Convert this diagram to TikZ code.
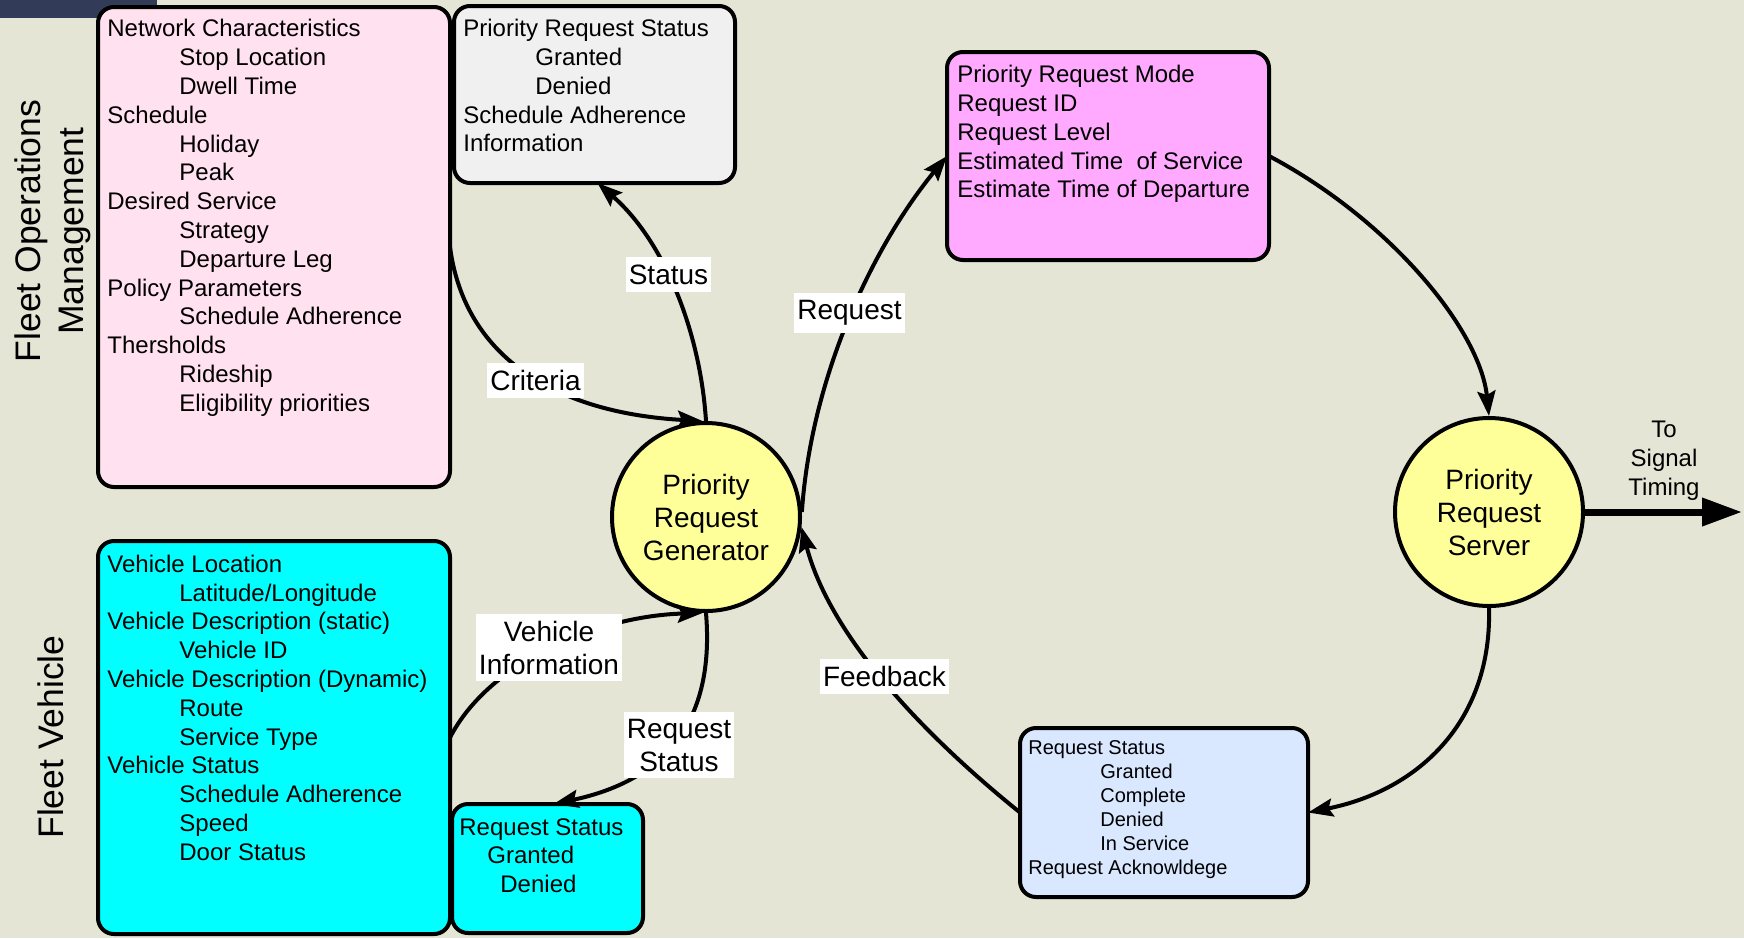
\documentclass[tikz,border=0pt]{standalone}
\usepackage{fontspec}
\setmainfont{Liberation Sans}
\usetikzlibrary{arrows.meta}
\definecolor{bgc}{RGB}{229,229,214}
\definecolor{stripc}{RGB}{50,60,88}
\definecolor{pinkc}{RGB}{255,225,240}
\definecolor{greyc}{RGB}{240,240,240}
\definecolor{magc}{RGB}{255,170,255}
\definecolor{cyanc}{RGB}{0,255,255}
\definecolor{lbluec}{RGB}{217,232,255}
\definecolor{yelc}{RGB}{255,255,153}
\begin{document}
\begin{tikzpicture}[x=0.5pt,y=-0.5pt,
  box/.style={draw=black, line width=2pt, rounded corners=8pt, anchor=north west, inner sep=0pt, outer sep=0pt},
  txtb/.style={anchor=north west, align=left, inner sep=0pt, font=\fontsize{12}{14.4}\selectfont},
  txts/.style={anchor=north west, align=left, inner sep=0pt, font=\fontsize{10}{12}\selectfont},
  proc/.style={circle, draw=black, line width=2pt, fill=yelc, minimum size=94pt, inner sep=0pt, align=center, font=\fontsize{14}{16.5}\selectfont},
  conn/.style={line width=2pt, -{Stealth[length=12.5pt,width=9pt,inset=2pt]}},
  bigarrow/.style={line width=3.5pt, -{Triangle[length=20pt,width=13.5pt]}},
  lbl/.style={fill=white, inner xsep=1.5pt, inner ysep=3.6pt, align=center, font=\fontsize{14}{16.5}\selectfont},
  side/.style={rotate=90, align=center, font=\fontsize{17.75}{21.5}\selectfont, inner sep=0pt}
]
\fill[bgc] (0,0) rectangle (1744,938);
\useasboundingbox (0,0) rectangle (1744,938);
\fill[stripc] (0,0) rectangle (157,18);

% side labels
\node[side] (fomlbl) at (53,231) {Fleet Operations\\Management};
\node[side] (fvlbl) at (51,737) {Fleet Vehicle};

% boxes
\node[box, fill=pinkc, minimum width=176pt, minimum height=240pt] (fom) at (98,7) {};
\node[txtb] (fomtxt) at (107,19) {Network Characteristics\\
\hspace*{36pt}Stop Location\\
\hspace*{36pt}Dwell Time\\
Schedule\\
\hspace*{36pt}Holiday\\
\hspace*{36pt}Peak\\
Desired Service\\
\hspace*{36pt}Strategy\\
\hspace*{36pt}Departure Leg\\
Policy Parameters\\
\hspace*{36pt}Schedule Adherence\\
Thersholds\\
\hspace*{36pt}Rideship\\
\hspace*{36pt}Eligibility priorities};

\node[box, fill=greyc, minimum width=140.5pt, minimum height=88.5pt] (prs) at (454,6) {};
\node[txtb] (prstxt) at (463,19) {Priority Request Status\\
\hspace*{36pt}Granted\\
\hspace*{36pt}Denied\\
Schedule Adherence\\
Information};

\node[box, fill=magc, minimum width=161pt, minimum height=104pt] (prm) at (947,52) {};
\node[txtb] (prmtxt) at (957,65) {Priority Request Mode\\
Request ID\\
Request Level\\
Estimated Time~ of Service\\
Estimate Time of Departure};

\node[box, fill=cyanc, minimum width=176pt, minimum height=196.5pt] (fv) at (98,541) {};
\node[txtb] (fvtxt) at (107,554.5) {Vehicle Location\\
\hspace*{36pt}Latitude/Longitude\\
Vehicle Description (static)\\
\hspace*{36pt}Vehicle ID\\
Vehicle Description (Dynamic)\\
\hspace*{36pt}Route\\
\hspace*{36pt}Service Type\\
Vehicle Status\\
\hspace*{36pt}Schedule Adherence\\
\hspace*{36pt}Speed\\
\hspace*{36pt}Door Status};

\node[box, fill=cyanc, minimum width=95.5pt, minimum height=64.5pt] (rsb) at (452,804) {};
\node[txtb, font=\fontsize{12}{14.25}\selectfont] (rsbtxt) at (459,818) {Request Status\\
\hspace*{14pt}Granted\\
\hspace*{20.5pt}Denied};

\node[box, fill=lbluec, minimum width=144pt, minimum height=84.5pt] (ack) at (1020,728) {};
\node[txts] (acktxt) at (1028,740.5) {Request Status\\
\hspace*{36pt}Granted\\
\hspace*{36pt}Complete\\
\hspace*{36pt}Denied\\
\hspace*{36pt}In Service\\
Request Acknowldege};

% processes
\node[proc] (gen) at (706,517) {Priority\\Request\\Generator};
\node[proc] (srv) at (1489,512) {Priority\\Request\\Server};

% connectors
\draw[conn] (fom.east) .. controls +(15,113) and +(-143,-8) .. (gen.92);
\draw[conn] (gen.north) .. controls +(-6,-92) and +(65.5,57) .. ([xshift=1.5pt]prs.south);
\draw[conn] (gen.3) .. controls +(9,-132) and +(-77,94) .. (prm.west);
\draw[conn] (prm.east) .. controls +(121,64) and +(-9,-86) .. (srv.north);
\draw[conn] (srv.south) .. controls +(3,112) and +(112,-22.5) .. (ack.east);
\draw[conn] (ack.west) .. controls +(-90,-72.5) and +(29.5,113) .. (gen.-6);
\draw[conn] (fv.east) .. controls +(40,-77.5) and +(-102.7,3) .. (gen.268);
\draw[conn] (gen.south) .. controls +(9,108) and +(112.5,-24) .. ([xshift=3pt]rsb.north);

\coordinate (sigend) at (1742,512);
\draw[bigarrow] (srv.east) -- (sigend);
\node[align=center, inner sep=0pt, font=\fontsize{12}{14.5}\selectfont] (tst) at (1664,461) {To\\Signal\\Timing};

% labels
\node[lbl] (lcrit) at (535.5,380.5) {Criteria};
\node[lbl] (lstat) at (668.5,274.5) {Status};
\node[lbl] (lreq) at (849.5,313) {Request};
\node[lbl] (lvi) at (549,647.5) {Vehicle\\Information};
\node[lbl] (lrs) at (679,745) {Request\\Status};
\node[lbl] (lfb) at (884.5,676.5) {Feedback};
\end{tikzpicture}
\end{document}
